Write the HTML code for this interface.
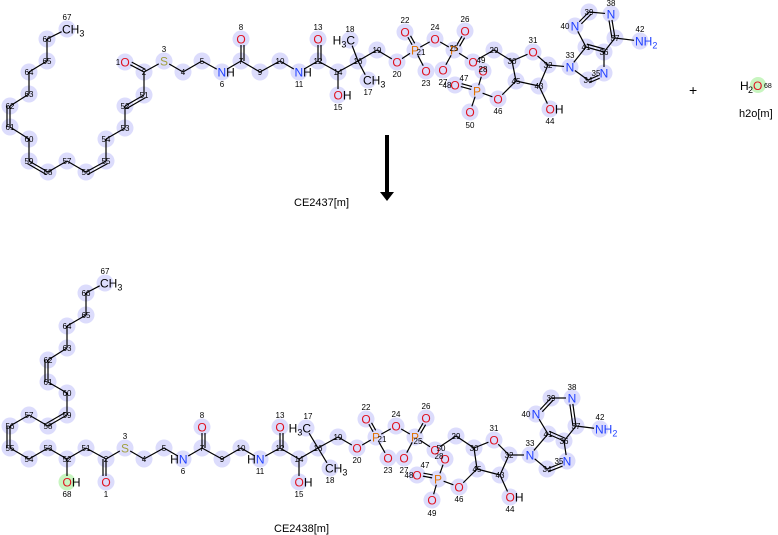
<!DOCTYPE html>
<html><head><meta charset="utf-8"><style>
html,body{margin:0;padding:0;background:#fff;width:778px;height:535px;overflow:hidden}
svg{display:block}
text{font-family:"Liberation Sans","DejaVu Sans",sans-serif}
</style></head><body>
<svg id="s" width="778" height="535" viewBox="0 0 778 535" xmlns="http://www.w3.org/2000/svg">
<g id="hl"></g><g id="bd" stroke="#000" stroke-width="1.2" fill="none"></g><g id="lb"></g>
<line x1="387" y1="135" x2="387" y2="192" stroke="#000" stroke-width="4"/>
<polygon points="380,192 394,192 387,201" fill="#000"/>
<text x="294" y="206" font-size="11">CE2437[m]</text>
<text x="274" y="532" font-size="11">CE2438[m]</text>
<text x="689" y="95" font-size="14">+</text>
<circle cx="758" cy="85" r="8" fill="#c8f5c0"/>
<text x="740" y="90" font-size="12">H</text><text x="748" y="93" font-size="9">2</text>
<text x="753" y="90" font-size="12" fill="#e0101e">O</text>
<text x="764" y="88" font-size="7">68</text>
<text x="739" y="117" font-size="11">h2o[m]</text>
</svg>
<script>
var NS="http://www.w3.org/2000/svg";
function el(p,t,a,txt){var e=document.createElementNS(NS,t);for(var k in a)e.setAttribute(k,a[k]);if(txt!=null)e.textContent=txt;document.getElementById(p).appendChild(e);return e;}
var R="#e0101e",B="#2040ff",P="#e07000",S="#a0a040";
var T1={
67:[67,29,"CH3","#000",0,-12],66:[47,39],65:[47,61],64:[29,72],63:[29,94],62:[10,106],61:[10,127],60:[29,139],59:[29,161],58:[48,172],57:[67,161],56:[86,172],55:[106,161],54:[106,139],53:[125,128],52:[125,106],51:[144,95],2:[144,72],
1:[125,62,"O",R,-7,0],3:[164,61,"S",S,0,-12],4:[183,72],5:[202,61],6:[222,72,"NH",B,0,12],7:[241,61],8:[241,39,"O",R,0,-12],9:[260,72],10:[280,61],11:[299,72,"NH",B,0,12],12:[318,61],13:[318,39,"O",R,0,-12],14:[338,72],15:[338,95,"OH",R,0,12],16:[358,61],17:[368,80,"CH3","#000",0,12],18:[350,40,"H3C","#000",0,-11],19:[377,50],
20:[397,62,"O",R,0,12],21:[415,50,"P",P,6,2],22:[405,32,"O",R,0,-12],23:[426,71,"O",R,0,12],24:[435,39,"O",R,0,-12],25:[454,50,"P",P,0,-2],26:[465,31,"O",R,0,-12],27:[443,70,"O",R,0,12],49:[473,62,"O",R,8,-2],
29:[494,50],30:[512,61],31:[533,52,"O",R,0,-12],32:[548,65],43:[539,86],45:[516,81],46:[498,99,"O",R,0,12],28:[483,71,"O",R,0,-2],47:[477,91,"P",P,-13,-13],48:[455,85,"O",R,-8,0],50:[470,112,"O",R,0,13],44:[550,109,"OH",R,0,12],
33:[570,67,"N",B,0,-12],34:[588,80],35:[604,73,"N",B,-8,0],36:[604,52],41:[586,47],40:[575,26,"N",B,-10,0],39:[589,12],38:[611,14,"N",B,0,-11],37:[615,38],42:[640,41,"NH2",B,0,-12]};
var B1=[[67,66],[66,65],[65,64],[64,63],[63,62],[62,61,2],[61,60],[60,59],[59,58,2],[58,57],[57,56],[56,55,2],[55,54],[54,53],[53,52],[52,51,2],[51,2],[2,1,2],[2,3],[3,4],[4,5],[5,6],[6,7],[7,8,2],[7,9],[9,10],[10,11],[11,12],[12,13,2],[12,14],[14,15],[14,16],[16,18],[16,17],[16,19],[19,20],[20,21],[21,22,2],[21,23],[21,24],[24,25],[25,26,2],[25,27],[25,49],[49,29],[29,30],[30,31],[31,32],[32,43],[43,45],[45,30],[43,44],[45,46],[46,47],[47,28],[47,48,2],[47,50],[32,33],[33,34],[34,35,2],[35,36],[36,41,2],[41,33],[41,40],[40,39,2],[39,38],[38,37,2],[37,36],[37,42]];
var T2={
67:[105,283,"CH3","#000",0,-12],66:[86,293],65:[86,315],64:[67,326],63:[67,348],62:[48,360],61:[48,382],60:[67,393],59:[67,415],58:[48,426],57:[29,415],56:[10,426],55:[10,448],54:[29,459],53:[48,448],52:[67,459],51:[86,448],2:[106,459],
1:[106,482,"O",R,0,12],68:[67,482,"OH",R,0,12,1],3:[125,448,"S",S,0,-12],4:[144,459],5:[164,448],6:[183,459,"HN",B,0,12],7:[202,448],8:[202,427,"O",R,0,-12],9:[222,459],10:[241,448],11:[260,459,"HN",B,0,12],12:[280,448],13:[280,427,"O",R,0,-12],14:[299,459],15:[299,482,"OH",R,0,12],16:[318,448],17:[306,428,"H3C","#000",2,-12],18:[330,468,"CH3","#000",0,12],19:[338,437],
20:[357,448,"O",R,0,12],21:[376,437,"P",P,6,2],22:[366,419,"O",R,0,-12],23:[388,458,"O",R,0,12],24:[396,426,"O",R,0,-12],25:[415,437,"P",P,3,4],26:[426,418,"O",R,0,-12],27:[404,458,"O",R,0,12],50:[435,450,"O",R,6,-2],
29:[456,436],30:[474,448],31:[494,440,"O",R,0,-12],32:[509,455],43:[500,475],45:[477,469],46:[459,487,"O",R,0,12],28:[445,459,"O",R,-6,-3],47:[438,479,"P",P,-13,-14],48:[417,475,"O",R,-8,0],49:[432,500,"O",R,0,13],44:[510,497,"OH",R,0,12],
33:[530,455,"N",B,0,-12],34:[547,469],35:[567,461,"N",B,-8,0],36:[564,441],41:[548,434],40:[536,414,"N",B,-10,0],39:[551,398],38:[572,398,"N",B,0,-11],37:[576,426],42:[600,429,"NH2",B,0,-12]};
var B2=[[67,66],[66,65],[65,64],[64,63],[63,62],[62,61,2],[61,60],[60,59],[59,58,2],[58,57],[57,56],[56,55,2],[55,54],[54,53],[53,52],[52,51],[52,68],[51,2],[2,1,2],[2,3],[3,4],[4,5],[5,6],[6,7],[7,8,2],[7,9],[9,10],[10,11],[11,12],[12,13,2],[12,14],[14,15],[14,16],[16,17],[16,18],[16,19],[19,20],[20,21],[21,22,2],[21,23],[21,24],[24,25],[25,26,2],[25,27],[25,50],[50,29],[29,30],[30,31],[31,32],[32,43],[43,45],[45,30],[43,44],[45,46],[46,47],[47,28],[47,48,2],[47,49],[32,33],[33,34],[34,35,2],[35,36],[36,41,2],[41,33],[41,40],[40,39,2],[39,38],[38,37,2],[37,36],[37,42]];
function draw(A,Bs){
 for(var k in A){var a=A[k];el("hl","circle",{cx:a[0],cy:a[1],r:8.5,fill:a[6]?"#c8f5c0":"#dcdcfc"});}
 Bs.forEach(function(b){var p=A[b[0]],q=A[b[1]];if(!p||!q)return;var x1=p[0],y1=p[1],x2=q[0],y2=q[1];var dx=x2-x1,dy=y2-y1,L=Math.hypot(dx,dy),ux=dx/L,uy=dy/L;
  var s1=p[2]?6:0,s2=q[2]?6:0;x1+=ux*s1;y1+=uy*s1;x2-=ux*s2;y2-=uy*s2;
  el("bd","line",{x1:x1,y1:y1,x2:x2,y2:y2});
  if(b[2]){var nx=-uy*3,ny=ux*3;el("bd","line",{x1:x1+nx,y1:y1+ny,x2:x2+nx,y2:y2+ny});}});
 for(var k in A){var a=A[k];
  if(a[2]){var t=a[2];var g=el("lb","text",{x:a[0],y:a[1]+4.5,"font-size":12,fill:a[3],"text-anchor":"middle"});
   if(t=="H3C"){g.setAttribute("text-anchor","end");g.setAttribute("x",a[0]+5);g.innerHTML='H<tspan font-size="9" dy="3">3</tspan><tspan dy="-3">C</tspan>';}
   else if(t=="CH3"||t=="NH2"){g.setAttribute("text-anchor","start");g.setAttribute("x",a[0]-5);g.innerHTML=t.slice(0,2)+'<tspan font-size="9" dy="3">'+t[2]+'</tspan>';}
   else if(t=="OH"||t=="NH"){g.setAttribute("text-anchor","start");g.setAttribute("x",a[0]-4.5);g.innerHTML='<tspan>'+t[0]+'</tspan><tspan fill="#000">H</tspan>';}
   else if(t=="HN"){g.setAttribute("text-anchor","end");g.setAttribute("x",a[0]+4.5);g.innerHTML='<tspan fill="#000">H</tspan><tspan>N</tspan>';}
   else {g.textContent=t;}
  }
  var nx=a[2]?(a[4]||0):0,ny=a[2]?(a[5]||0):0;
  el("lb","text",{x:a[0]+nx,y:a[1]+ny+3,"font-size":8,"text-anchor":"middle",fill:"#000"},k);
 }
}
draw(T1,B1);draw(T2,B2);
</script>
</body></html>
